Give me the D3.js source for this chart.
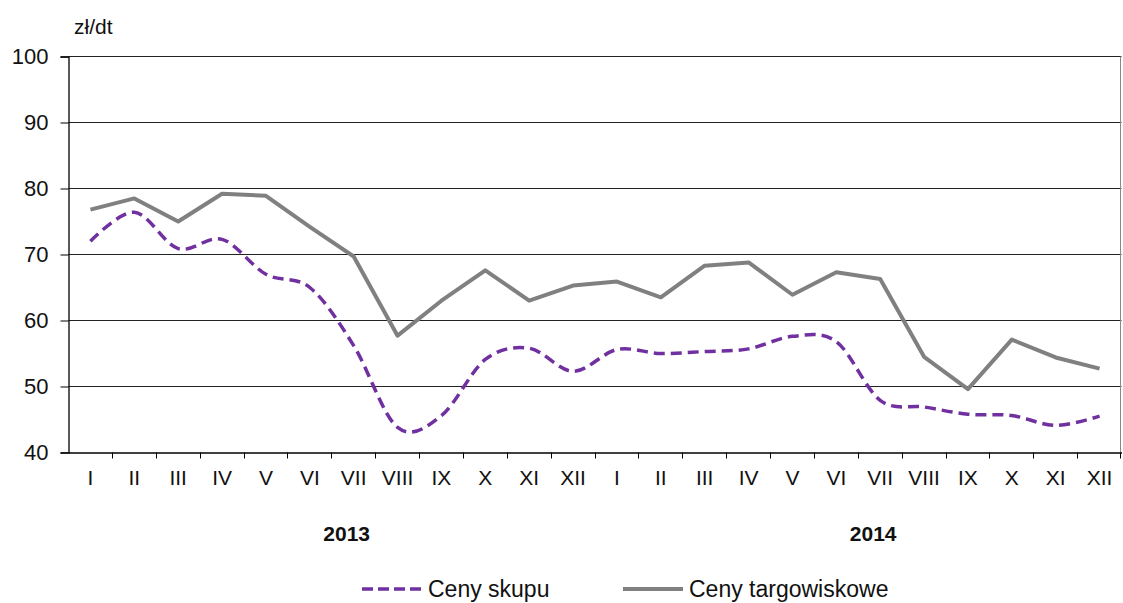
<!DOCTYPE html>
<html>
<head>
<meta charset="utf-8">
<script src="https://cdn.jsdelivr.net/npm/d3@7/dist/d3.min.js"></script>
<style>
  body { margin: 0; background: #fff; }
  text { font-family: Arial, "Liberation Sans", sans-serif; fill: #111; }
</style>
</head>
<body>
<svg id="chart"></svg>
<script>
// months repeated for 2 years
const months = ["I","II","III","IV","V","VI","VII","VIII","IX","X","XI","XII"];
const years = ["2013", "2014"];
const categories = years.flatMap(y => months.map(m => y + "-" + m));

const cenySkupu = [72.0, 76.4, 70.9, 72.3, 67.0, 65.0, 56.2, 43.8, 45.6, 54.1, 55.8, 52.3,
                   55.6, 55.0, 55.3, 55.7, 57.6, 56.8, 47.9, 46.9, 45.8, 45.6, 44.1, 45.5];
const cenyTargowiskowe = [76.8, 78.5, 75.0, 79.2, 78.9, 74.2, 69.7, 57.7, 63.0, 67.6, 63.0, 65.3,
                          65.9, 63.5, 68.3, 68.8, 63.9, 67.3, 66.3, 54.5, 49.6, 57.1, 54.4, 52.7];
const yTicks = [40, 50, 60, 70, 80, 90, 100];

const width = 1123, height = 603;
const margin = { top: 56, right: 2, bottom: 151, left: 68 };
const innerW = width - margin.left - margin.right;
const innerH = height - margin.top - margin.bottom;

const svg = d3.select("#chart").attr("width", width).attr("height", height);
const chart = svg.append("g").attr("transform", `translate(${margin.left + 0.5},${margin.top + 0.5})`);

const xScale = d3.scaleBand().domain(categories).range([0, innerW]);
const yScale = d3.scaleLinear().domain([40, 100]).range([innerH, 0]);
const xMid = d => xScale(d) + xScale.bandwidth() / 2;

// gridlines
chart.append("g")
  .selectAll("line").data(yTicks.filter(t => t > 40)).enter()
  .append("line")
    .attr("x1", 0).attr("x2", innerW)
    .attr("y1", d => yScale(d)).attr("y2", d => yScale(d))
    .attr("stroke", "#222").attr("stroke-width", 1);

// right border
chart.append("line")
  .attr("x1", innerW - 1).attr("x2", innerW - 1)
  .attr("y1", 0).attr("y2", innerH)
  .attr("stroke", "#888").attr("stroke-width", 1);

// y axis
const yAxisG = chart.append("g")
  .call(d3.axisLeft(yScale).tickValues(yTicks).tickSize(8).tickPadding(12));
yAxisG.selectAll("text").style("font-size", "22px");

// x axis
const xAxisG = chart.append("g")
  .attr("transform", `translate(0,${innerH})`)
  .call(d3.axisBottom(xScale).tickSize(0).tickPadding(18).tickFormat(d => d.split("-")[1]));
xAxisG.selectAll("text").style("font-size", "21px");
// tick marks at band edges
xAxisG.selectAll(".edge").data(categories.slice(1).concat(["end"])).enter()
  .append("line")
    .attr("class", "edge")
    .attr("x1", d => Math.round(d === "end" ? innerW - 1 : xScale(d)))
    .attr("x2", d => Math.round(d === "end" ? innerW - 1 : xScale(d)))
    .attr("y1", 0).attr("y2", 6)
    .attr("stroke", "#000");

chart.selectAll(".domain").attr("stroke", "#000").attr("stroke-width", 1.3);
chart.selectAll(".tick line").attr("stroke", "#000");

// year labels
chart.selectAll(".year").data(years).enter()
  .append("text")
    .attr("class", "year")
    .attr("x", d => xMid(d + "-VII") - 7)
    .attr("y", innerH + 88)
    .attr("text-anchor", "middle")
    .style("font-size", "21px")
    .style("font-weight", "bold")
    .text(d => d);

// unit label
svg.append("text")
  .attr("x", 74).attr("y", 34)
  .style("font-size", "21px")
  .text("zł/dt");

// lines
const lineTarg = d3.line()
  .x((d, i) => xMid(categories[i]))
  .y(d => yScale(d));
const lineSkup = d3.line()
  .x((d, i) => xMid(categories[i]))
  .y(d => yScale(d))
  .curve(d3.curveCatmullRom.alpha(0));

chart.append("path")
  .datum(cenyTargowiskowe)
  .attr("d", lineTarg)
  .attr("fill", "none")
  .attr("stroke", "#808080")
  .attr("stroke-width", 4)
  .attr("stroke-linejoin", "round");

chart.append("path")
  .datum(cenySkupu)
  .attr("d", lineSkup)
  .attr("fill", "none")
  .attr("stroke", "#7030a0")
  .attr("stroke-width", 3.5)
  .attr("stroke-dasharray", "11,6");

// legend
const legend = svg.append("g").attr("transform", "translate(0,589)");
const legendItems = [
  { name: "Ceny skupu", color: "#7030a0", dash: "11,5", x: 362 },
  { name: "Ceny targowiskowe", color: "#808080", dash: null, x: 623 }
];
legendItems.forEach(item => {
  legend.append("line")
    .attr("x1", item.x).attr("x2", item.x + 60)
    .attr("y1", 0).attr("y2", 0)
    .attr("stroke", item.color)
    .attr("stroke-width", item.dash ? 3.5 : 4)
    .attr("stroke-dasharray", item.dash);
  legend.append("text")
    .attr("x", item.x + 66).attr("y", 8)
    .style("font-size", "23px")
    .text(item.name);
});
</script>
</body>
</html>
